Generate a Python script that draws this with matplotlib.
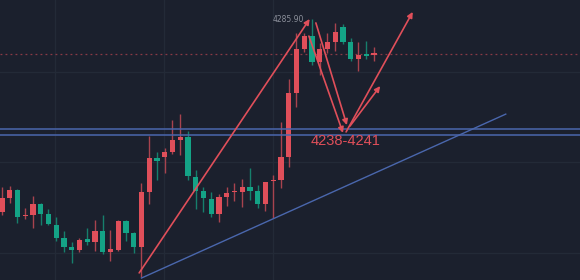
import matplotlib
matplotlib.use("Agg")
import matplotlib.pyplot as plt
import numpy as np

# ---- data (OHLC) ----
opens  = [4206.8, 4212.5, 4215.8, 4205.1, 4205.5, 4210.1, 4206.0, 4201.4, 4196.1, 4192.4,
          4191.2, 4195.7, 4194.5, 4199.0, 4190.4, 4191.2, 4203.1, 4198.2, 4192.4, 4215.0,
          4228.9, 4229.3, 4231.4, 4236.3, 4237.5, 4221.1, 4215.4, 4212.1, 4206.0, 4212.9,
          4214.8, 4215.0, 4217.0, 4215.4, 4210.1, 4219.3, 4219.9, 4229.3, 4255.6, 4273.6,
          4278.9, 4268.3, 4273.6, 4276.5, 4282.6, 4276.5, 4269.5, 4271.4, 4271.1]
highs  = [4217.0, 4217.4, 4216.2, 4208.4, 4213.3, 4210.5, 4208.0, 4204.7, 4199.0, 4194.5,
          4196.1, 4200.2, 4203.5, 4205.5, 4199.4, 4203.5, 4203.5, 4198.6, 4218.7, 4237.9,
          4231.4, 4233.0, 4244.5, 4247.0, 4240.0, 4224.0, 4217.0, 4215.0, 4214.2, 4217.0,
          4218.7, 4220.3, 4224.8, 4217.8, 4219.1, 4221.9, 4243.7, 4261.3, 4280.2, 4280.2,
          4285.9, 4276.1, 4280.2, 4284.3, 4283.9, 4278.1, 4276.5, 4276.9, 4274.4]
lows   = [4205.5, 4210.5, 4202.3, 4203.9, 4200.2, 4201.4, 4201.4, 4194.9, 4190.4, 4185.9,
          4190.4, 4193.2, 4190.8, 4189.6, 4186.7, 4190.8, 4194.9, 4190.0, 4180.1, 4210.1,
          4219.9, 4222.8, 4230.6, 4230.1, 4219.9, 4208.0, 4206.8, 4204.7, 4202.7, 4209.2,
          4211.3, 4208.8, 4211.7, 4208.4, 4207.2, 4204.3, 4216.6, 4225.2, 4249.8, 4272.4,
          4267.0, 4262.9, 4272.0, 4272.8, 4275.7, 4268.7, 4264.6, 4269.5, 4268.7]
closes = [4212.5, 4215.8, 4204.7, 4205.5, 4210.1, 4206.0, 4201.9, 4196.1, 4192.4, 4191.2,
          4195.3, 4194.5, 4199.0, 4190.4, 4191.6, 4203.1, 4198.2, 4192.4, 4215.0, 4228.9,
          4227.7, 4231.4, 4236.3, 4237.5, 4221.5, 4215.4, 4212.5, 4206.0, 4212.9, 4214.6,
          4215.0, 4217.0, 4215.4, 4210.1, 4219.1, 4219.5, 4229.3, 4255.6, 4273.6, 4278.9,
          4268.3, 4273.6, 4276.5, 4280.6, 4276.5, 4269.5, 4271.1, 4270.9, 4272.0]

zone_levels = [4241.0, 4238.4]
last_price = 4271.6
high_label = "4285.90"
high_value = 4285.9
zone_text = "4238-4241"

# trend line (index, price)
trend_start = (18.0, 4179.7)
trend_end = (65.0, 4246.9)

# arrows: (x0, y0, x1, y1)
arrows = [
    (17.7, 4181.8, 39.7, 4285.9),
    (40.5, 4284.3, 44.5, 4242.4),
    (39.6, 4278.9, 44.0, 4239.2),
    (44.4, 4239.6, 53.0, 4288.8),
    (44.9, 4242.0, 48.8, 4258.4),
]

grid_x = [6.84, 20.9, 34.97]
grid_y = [4264.2, 4227.3, 4190.0]

# ---- style ----
BG = '#1b202d'
RED = '#e04f5a'
GREEN = '#14a386'
RED_WICK = '#a8434e'
GREEN_WICK = '#167f6c'
BLUE = '#4a67ad'

fig = plt.figure(figsize=(5.8, 2.8), dpi=100)
fig.patch.set_facecolor(BG)
ax = fig.add_axes([0, 0, 1, 1])
ax.set_facecolor(BG)

for gx in grid_x:
    ax.axvline(gx, color='#232a37', lw=1, zorder=0)
for gy in grid_y:
    ax.axhline(gy, color='#232a37', lw=1, zorder=0)

x = np.arange(len(opens))
o = np.array(opens); c = np.array(closes); h = np.array(highs); l = np.array(lows)
up = c >= o
body_col = [RED if u else GREEN for u in up]
wick_col = [RED_WICK if u else GREEN_WICK for u in up]
ax.vlines(x, l, h, colors=wick_col, lw=1, zorder=2)
bottom = np.minimum(o, c)
height = np.maximum(np.abs(c - o), 0.45)
ax.bar(x, height, bottom=bottom, width=0.7, color=body_col, zorder=3, linewidth=0)

# current price dotted line
ax.axhline(last_price, color='#8a3a46', lw=0.9, ls=(0, (1.5, 2.5)), zorder=1)

# zone lines
for zl in zone_levels:
    ax.axhline(zl, color=BLUE, lw=1.1, zorder=4)

# trend line
ax.plot([trend_start[0], trend_end[0]], [trend_start[1], trend_end[1]],
        color=BLUE, lw=1.0, zorder=4)

# arrows
for (x0, y0, x1, y1) in arrows:
    ax.annotate('', xy=(x1, y1), xytext=(x0, y0),
                arrowprops=dict(arrowstyle='-|>', color=RED, lw=1.2,
                                mutation_scale=8, shrinkA=0, shrinkB=0),
                zorder=5)

ax.text(38.95, high_value, high_label, color='#8c909b', fontsize=5.5,
        ha='right', va='center', family='DejaVu Sans', zorder=6)
ax.text(44.3, 4235.9, zone_text, color=RED, fontsize=10.5,
        ha='center', va='center', family='Liberation Sans', zorder=6)

ax.set_xlim((0 - 2) / 7.75, (580 - 2) / 7.75)
ax.set_ylim(4293.69 - 0.41 * 280, 4293.69)
ax.axis('off')

fig.savefig('out.png', dpi=100, facecolor=BG)
